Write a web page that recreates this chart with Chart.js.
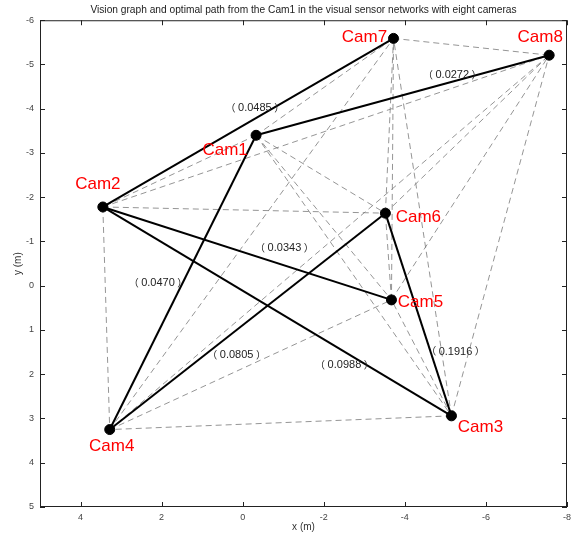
<!DOCTYPE html>
<html>
<head>
<meta charset="utf-8">
<script src="https://cdn.jsdelivr.net/npm/chart.js@4.4.1/dist/chart.umd.min.js"></script>
<style>
	html, body { margin:0; padding:0; background:#fff; }
	#wrap { position:relative; width:573px; height:534px; }
</style>
</head>
<body>
<div id="wrap"><canvas id="c"></canvas></div>
<script>
// camera positions (m)
const camNames = ['Cam1','Cam2','Cam3','Cam4','Cam5','Cam6','Cam7','Cam8']
const camX = [-0.33, 3.45, -5.15, 3.28, -3.67, -3.52, -3.72, -7.56]
const camY = [-3.40, -1.78, 2.94, 3.25, 0.32, -1.64, -5.59, -5.21]

// optimal path edges (1-based cam numbers) and their weights
const pathEdges = [[2,7],[1,8],[1,4],[2,5],[2,3],[4,6],[6,3]]
const pathWeights = ['0.0485','0.0272','0.0470','0.0343','0.0988','0.0805','0.1916']
const weightX = [-0.30, -5.17, 2.09, -1.03, -2.51, 0.15, -5.25]
const weightY = [-4.01, -4.76, -0.06, -0.85, 1.79, 1.56, 1.49]

const xTicks = [4, 2, 0, -2, -4, -6, -8]
const yTicks = [-6, -5, -4, -3, -2, -1, 0, 1, 2, 3, 4, 5]

// label offsets around each node, px
const camLabelOff = [[-31,15],[-5,-23],[29,11],[2,17],[29,2],[33,4],[-29,-1],[-9,-18]]

const FONT = '"Liberation Sans", Arial, sans-serif'
const pt = i => ({x: camX[i-1], y: camY[i-1]})
const isPath = (a, b) => pathEdges.some(e => (e[0]==a && e[1]==b) || (e[0]==b && e[1]==a))

const datasets = []
for (let a = 1; a <= 8; a++) for (let b = a+1; b <= 8; b++) {
	if (isPath(a, b)) continue
	datasets.push({ data:[pt(a), pt(b)], showLine:true, borderColor:'#7a7a7a', borderWidth:0.8, borderDash:[6,4], pointRadius:0, order:3 })
}
pathEdges.forEach(e => {
	datasets.push({ data:[pt(e[0]), pt(e[1])], showLine:true, borderColor:'#000', borderWidth:2, pointRadius:0, order:2 })
})
datasets.push({ data: camX.map((x,i) => ({x, y:camY[i]})), showLine:false, pointRadius:5, pointBackgroundColor:'#000', pointBorderColor:'#000', order:1 })

const labels = {
	id:'labels',
	afterDatasetsDraw(chart) {
		const {ctx, chartArea:ca, scales:{x, y}} = chart
		ctx.save()
		// frame with inward ticks
		ctx.strokeStyle = '#222'
		ctx.lineWidth = 1
		ctx.strokeRect(ca.left+0.5, ca.top+0.5, ca.right-ca.left-1, ca.bottom-ca.top-1)
		ctx.beginPath()
		xTicks.forEach(v => {
			const p = Math.round(x.getPixelForValue(v)) + 0.5
			ctx.moveTo(p, ca.bottom); ctx.lineTo(p, ca.bottom-5)
			ctx.moveTo(p, ca.top); ctx.lineTo(p, ca.top+5)
		})
		yTicks.forEach(v => {
			const p = Math.round(y.getPixelForValue(v)) + 0.5
			ctx.moveTo(ca.left, p); ctx.lineTo(ca.left+5, p)
			ctx.moveTo(ca.right, p); ctx.lineTo(ca.right-5, p)
		})
		ctx.stroke()

		// edge weights in full-width brackets
		ctx.textBaseline = 'middle'
		ctx.fillStyle = '#222'
		pathWeights.forEach((w, i) => {
			const cx = x.getPixelForValue(weightX[i]), cy = y.getPixelForValue(weightY[i])
			ctx.font = '11px ' + FONT
			const tw = ctx.measureText(w).width
			ctx.textAlign = 'center'
			ctx.fillText(w, cx, cy)
			ctx.font = '10px "Noto Sans CJK SC", sans-serif'
			ctx.textAlign = 'right'
			ctx.fillText('（', cx - tw/2 - 2.5, cy)
			ctx.textAlign = 'left'
			ctx.fillText('）', cx + tw/2 + 2.5, cy)
		})

		ctx.textAlign = 'center'
		ctx.fillStyle = '#ff0000'
		ctx.font = '17px ' + FONT
		camNames.forEach((n, i) => {
			ctx.fillText(n, x.getPixelForValue(camX[i]) + camLabelOff[i][0], y.getPixelForValue(camY[i]) + camLabelOff[i][1])
		})
		ctx.restore()
	}
}

new Chart(document.getElementById('c'), {
	type: 'scatter',
	data: { datasets },
	plugins: [labels],
	options: {
		responsive: true,
		maintainAspectRatio: false,
		animation: false,
		layout: { padding: { right: 5 } },
		plugins: {
			legend: { display: false },
			tooltip: { enabled: false },
			title: {
				display: true,
				fullSize: false,
				text: 'Vision graph and optimal path from the Cam1 in the visual sensor networks with eight cameras',
				color: '#222',
				font: { family: FONT, size: 10.2, weight: 'normal' },
				padding: { top: 4, bottom: 4 }
			}
		},
		scales: {
			x: {
				type: 'linear', reverse: true, min: -8, max: 5,
				afterBuildTicks: s => { s.ticks = xTicks.map(v => ({value: v})) },
				afterFit: s => { s.height = 27; s.paddingLeft = 0; s.paddingRight = 0 },
				grid: { display: false, drawTicks: false }, border: { display: false },
				ticks: { color: '#444', font: { family: FONT, size: 9 }, padding: 5, maxRotation: 0 },
				title: { display: true, text: 'x (m)', color: '#333', font: { family: FONT, size: 10 }, padding: { top: 0, bottom: 1 } }
			},
			y: {
				type: 'linear', reverse: true, min: -6, max: 5,
				afterBuildTicks: s => { s.ticks = yTicks.map(v => ({value: v})) },
				afterFit: s => { s.width = 40; s.paddingTop = 0; s.paddingBottom = 0 },
				grid: { display: false, drawTicks: false }, border: { display: false },
				ticks: { color: '#444', font: { family: FONT, size: 9 }, padding: 6 },
				title: { display: true, text: 'y (m)', color: '#333', font: { family: FONT, size: 10 }, padding: { top: 12, bottom: 0 } }
			}
		}
	}
})
</script>
</body>
</html>
